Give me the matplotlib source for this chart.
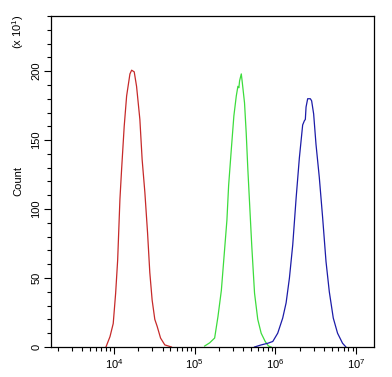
""" flow cytometry histogram overlay """

import math

import matplotlib
matplotlib.use('Agg')
import matplotlib.pyplot as plt
from matplotlib.ticker import LogLocator, FixedLocator, MultipleLocator, NullFormatter

# fluorescence intensity (log10) and event counts (x10)
red_log_fl = [3.901, 3.951, 3.991, 4.021, 4.046, 4.074, 4.095, 4.127, 4.157, 4.198,
              4.219, 4.251, 4.280, 4.321, 4.349, 4.383, 4.416, 4.444, 4.473, 4.506,
              4.535, 4.577, 4.630, 4.712]
red_count = [0, 7.5, 17, 39, 63, 107, 129, 160, 182, 198,
             200.7, 199.5, 189, 165, 136, 112, 83, 54, 34, 20,
             15, 6.5, 1.5, 0]

green_log_fl = [5.123, 5.185, 5.247, 5.288, 5.330, 5.370, 5.399, 5.420, 5.453, 5.485,
                5.515, 5.535, 5.547, 5.556, 5.577, 5.589, 5.617, 5.638, 5.658, 5.679,
                5.707, 5.741, 5.781, 5.823, 5.873, 5.914, 5.947]
green_count = [0.7, 3, 6.5, 22, 41, 70.5, 92, 117, 143, 167.5,
               182, 189, 188, 193, 198, 192, 177, 155, 129, 105,
               73, 39, 20, 10, 4, 0.7, 0]

blue_log_fl = [5.741, 5.823, 5.905, 5.967, 6.028, 6.090, 6.132, 6.173, 6.214, 6.256,
               6.296, 6.337, 6.358, 6.370, 6.379, 6.399, 6.432, 6.448, 6.473, 6.502,
               6.543, 6.584, 6.626, 6.667, 6.716, 6.769, 6.831, 6.873]
blue_count = [0, 1.5, 2.7, 4, 10, 21, 32, 50, 74, 108,
              137, 161, 164, 165, 174, 180, 180, 178.5, 169, 147,
              123, 94, 62, 40, 21, 10, 2.7, 0]

y_major = [0, 50, 100, 150, 200]
x_major = [1e4, 1e5, 1e6, 1e7]

plt.rcParams['font.family'] = ['Liberation Sans', 'DejaVu Sans']
plt.rcParams['mathtext.fontset'] = 'custom'
plt.rcParams['mathtext.rm'] = 'Liberation Sans'

fig = plt.figure(figsize=(3.92, 3.77), dpi=100)
ax = fig.add_axes([0.130, 0.0796, 0.824, 0.878])

series = [(red_log_fl, red_count, '#c62a2a'),
          (green_log_fl, green_count, '#3ddc3d'),
          (blue_log_fl, blue_count, '#1c1ca8')]
for lx, cnt, col in series:
    ax.plot([10 ** v for v in lx], cnt, color=col, lw=0.9)

ax.set_xscale('log')
ax.set_xlim(10 ** 3.22, 10 ** 7.22)
ax.set_ylim(0, 240)

ax.xaxis.set_major_locator(FixedLocator(x_major))
ax.xaxis.set_major_formatter(
    plt.FuncFormatter(lambda v, p: f'$\\mathregular{{10^{{{int(round(math.log10(v)))}}}}}$'))
ax.xaxis.set_minor_locator(LogLocator(base=10, subs=range(2, 10), numticks=20))
ax.xaxis.set_minor_formatter(NullFormatter())

ax.yaxis.set_major_locator(FixedLocator(y_major))
ax.yaxis.set_minor_locator(MultipleLocator(10))

ax.tick_params(which='major', direction='out', length=5, width=0.8, labelsize=8, pad=2)
ax.tick_params(which='minor', direction='out', length=3, width=0.8)
for lbl in ax.get_yticklabels():
    lbl.set_rotation(90)
    lbl.set_va('center')

for sp in ax.spines.values():
    sp.set_linewidth(0.9)

ax.set_ylabel('Count', fontsize=8, labelpad=6)
fig.text(18 / 392, 1 - 32 / 377, '(x $\\mathregular{10^1}$)', rotation=90, fontsize=8,
         ha='center', va='center')

fig.savefig('out.png', dpi=100)
